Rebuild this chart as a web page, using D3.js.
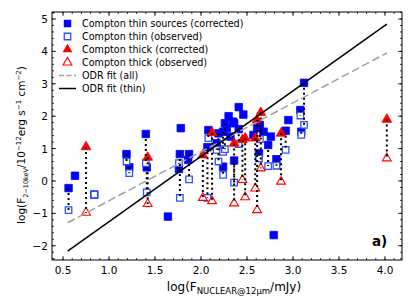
<!DOCTYPE HTML>
<head>
    <script src="https://cdn.jsdelivr.net/npm/d3@7/dist/d3.min.js"></script>
</head>

<body style="margin:0">
    <div id="svgDiv">
        <svg width="415" height="308"></svg>
    </div>
</body>

<style>
    text { font-family: "DejaVu Sans", sans-serif; fill: #000; }
</style>

<script>
    var w = 415;
    var h = 308;
    var margin = {left: 52, right: 13, top: 12, bottom: 48};

    // Compton thin sources: x, corrected, observed (null = not drawn)
    var thinX    = [0.56, 0.63, 0.84, 1.19, 1.22, 1.40, 1.41, 1.64, 1.78, 1.77, 1.76, 1.87, 1.86, 2.08, 2.07,
                    2.17, 2.19, 2.24, 2.24, 2.26, 2.28, 2.30, 2.32, 2.35, 2.36, 2.41, 2.41, 2.46, 2.36, 2.57,
                    2.61, 2.64, 2.68, 2.63, 2.73, 2.76, 2.82, 2.79, 2.92, 2.95, 3.08, 3.09, 3.12];
    var thinCorr = [-0.22, 0.16, -0.42, 0.83, 0.42, 1.45, 0.42, -1.10, 1.63, 0.83, 0.37, 0.83, 0.65, 1.57, 1.04,
                    1.16, 1.47, 1.52, 0.44, 1.78, 1.63, 2.00, 1.37, 1.83, 1.78, 1.60, 2.28, 2.05, 0.63, 1.42,
                    1.63, 1.73, 1.52, 0.85, 1.11, 1.37, 0.67, -1.67, 1.55, 1.88, 2.19, 1.52, 3.03];
    var thinObs  = [-0.90, null, -0.42, 0.60, 0.24, 0.55, -0.35, null, null, -0.52, 0.55, 0.05, null, 1.32, -0.52,
                    0.96, 0.60, 0.90, 0.19, 0.98, null, null, null, null, null, 1.14, null, null, -0.05, null,
                    null, 1.29, null, 0.70, 0.46, null, 0.47, null, 0.96, null, 2.02, 1.42, 1.73];

    // Compton thick sources
    var thickX    = [0.75, 1.42, 2.02, 2.12, 2.36, 2.45, 2.48, 2.59, 2.61, 2.65, 2.87, 4.02];
    var thickCorr = [1.05, 0.73, 0.80, 1.49, 1.16, 1.27, 1.32, 1.32, 1.88, 2.11, 1.47, 1.90];
    var thickObs  = [-0.98, -0.71, -0.52, -0.62, -0.69, 0.03, -0.50, -0.23, -0.90, 0.39, -0.02, 0.70];

    // ODR fits: [slope, intercept]
    var fitAll  = [1.51, -2.12];
    var fitThin = [2.02, -3.28];
    var fitRange = [0.55, 4.02];

    var xTicks = [0.5, 1.0, 1.5, 2.0, 2.5, 3.0, 3.5, 4.0];
    var yTicks = [-2, -1, 0, 1, 2, 3, 4, 5];

    var vis = d3.select("svg");

    var x = d3.scaleLinear().domain([0.38, 4.185]).range([margin.left, w - margin.right]);
    var y = d3.scaleLinear().domain([-2.44, 5.216]).range([h - margin.bottom, margin.top]);

    var thin = thinX.map(function(d, i) { return {x: d, c: thinCorr[i], o: thinObs[i]}; });
    var thick = thickX.map(function(d, i) { return {x: d, c: thickCorr[i], o: thickObs[i]}; });

    var sq = d3.symbol().type(d3.symbolSquare).size(56);
    var tri = d3.symbol().type(d3.symbolTriangle).size(42);

    //fit lines
    function fitLine(f, stroke, dash) {
        vis.append("line")
            .attr("x1", x(fitRange[0])).attr("y1", y(f[0] * fitRange[0] + f[1]))
            .attr("x2", x(fitRange[1])).attr("y2", y(f[0] * fitRange[1] + f[1]))
            .attr("stroke", stroke).attr("stroke-width", 1.5)
            .attr("stroke-dasharray", dash);
    }

    //markers
    var plot = vis.append("g");
    plot.selectAll(".thinC").data(thin.filter(d => d.c != null)).enter()
        .append("path").attr("d", sq)
        .attr("transform", d => "translate(" + x(d.x) + "," + y(d.c) + ")")
        .attr("fill", "#0000ff").attr("stroke", "#0000ff").attr("stroke-width", 0.8);
    plot.selectAll(".thinO").data(thin.filter(d => d.o != null)).enter()
        .append("path").attr("d", d3.symbol().type(d3.symbolSquare).size(42))
        .attr("transform", d => "translate(" + x(d.x) + "," + y(d.o) + ")")
        .attr("fill", "#fff").attr("stroke", "#3050ff").attr("stroke-width", 1.3);
    plot.selectAll(".thickC").data(thick).enter()
        .append("path").attr("d", tri)
        .attr("transform", d => "translate(" + x(d.x) + "," + y(d.c) + ")")
        .attr("fill", "#ff0000").attr("stroke", "#ff0000").attr("stroke-width", 0.8);
    plot.selectAll(".thickO").data(thick).enter()
        .append("path").attr("d", d3.symbol().type(d3.symbolTriangle).size(34))
        .attr("transform", d => "translate(" + x(d.x) + "," + y(d.o) + ")")
        .attr("fill", "#fff").attr("stroke", "#ff0000").attr("stroke-width", 1.1);

    //dotted connectors corrected -> observed
    var pairs = thin.filter(d => d.c != null && d.o != null).concat(thick);
    plot.selectAll(".conn").data(pairs).enter()
        .append("line")
        .attr("x1", d => x(d.x)).attr("x2", d => x(d.x))
        .attr("y1", d => y(d.c)).attr("y2", d => y(d.o))
        .attr("stroke", "#000").attr("stroke-width", 2)
        .attr("stroke-dasharray", "2,3");

    fitLine(fitAll, "#a0a0a0", "8,3.5");
    fitLine(fitThin, "#000", null);

    //axes, ticks inside on all four sides
    var x0 = margin.left, x1 = w - margin.right, y0 = h - margin.bottom, y1 = margin.top;
    var xMinor = d3.range(0.4, 4.19, 0.1);
    var yMinor = d3.range(-2.4, 5.21, 0.2);
    var ax = vis.append("g").attr("stroke", "#000").attr("stroke-width", 0.8);
    xMinor.forEach(function(t) {
        ax.append("line").attr("x1", x(t)).attr("x2", x(t)).attr("y1", y0).attr("y2", y0 - 2);
        ax.append("line").attr("x1", x(t)).attr("x2", x(t)).attr("y1", y1).attr("y2", y1 + 2);
    });
    yMinor.forEach(function(t) {
        ax.append("line").attr("y1", y(t)).attr("y2", y(t)).attr("x1", x0).attr("x2", x0 + 2);
        ax.append("line").attr("y1", y(t)).attr("y2", y(t)).attr("x1", x1).attr("x2", x1 - 2);
    });
    xTicks.forEach(function(t) {
        ax.append("line").attr("x1", x(t)).attr("x2", x(t)).attr("y1", y0).attr("y2", y0 - 4);
        ax.append("line").attr("x1", x(t)).attr("x2", x(t)).attr("y1", y1).attr("y2", y1 + 4);
        vis.append("text").attr("x", x(t)).attr("y", y0 + 14).attr("text-anchor", "middle")
            .attr("font-size", 10.5).text(t.toFixed(1));
    });
    yTicks.forEach(function(t) {
        ax.append("line").attr("y1", y(t)).attr("y2", y(t)).attr("x1", x0).attr("x2", x0 + 4);
        ax.append("line").attr("y1", y(t)).attr("y2", y(t)).attr("x1", x1).attr("x2", x1 - 4);
        vis.append("text").attr("x", x0 - 4).attr("y", y(t) + 4).attr("text-anchor", "end")
            .attr("font-size", 10.5).text(String(t).replace("-", "\u2212"));
    });
    vis.append("rect").attr("x", x0).attr("y", y1).attr("width", x1 - x0).attr("height", y0 - y1)
        .attr("fill", "none").attr("stroke", "#000").attr("stroke-width", 1);

    //axis labels
    var xl = vis.append("text").attr("x", 234).attr("y", 291).attr("text-anchor", "middle").attr("font-size", 12);
    xl.append("tspan").text("log(F");
    xl.append("tspan").attr("font-size", 8.5).attr("dy", 2.5).text("NUCLEAR@12\u03bcm");
    xl.append("tspan").attr("dy", -2.5).text("/mJy)");

    var yl = vis.append("text").attr("transform", "translate(25,145) rotate(-90)")
        .attr("text-anchor", "middle").attr("font-size", 10.5);
    yl.append("tspan").text("log(F");
    yl.append("tspan").attr("font-size", 6.5).attr("dy", 2.5).text("2\u221210keV");
    yl.append("tspan").attr("dy", -2.5).text("/10");
    yl.append("tspan").attr("font-size", 7).attr("dy", -4.5).text("\u221212");
    yl.append("tspan").attr("dy", 4.5).text("erg s");
    yl.append("tspan").attr("font-size", 7).attr("dy", -4.5).text("\u22121");
    yl.append("tspan").attr("dy", 4.5).text(" cm");
    yl.append("tspan").attr("font-size", 7).attr("dy", -4.5).text("\u22122");
    yl.append("tspan").attr("dy", 4.5).text(")");

    vis.append("text").attr("x", 372).attr("y", 246).attr("font-size", 13.5)
        .attr("font-weight", "bold").text("a)");

    //legend
    var legend = [
        {label: "Compton thin sources (corrected)", kind: "sqF"},
        {label: "Compton thin (observed)", kind: "sqO"},
        {label: "Compton thick (corrected)", kind: "triF"},
        {label: "Compton thick (observed)", kind: "triO"},
        {label: "ODR fit (all)", kind: "dash"},
        {label: "ODR fit (thin)", kind: "solid"}
    ];
    var lg = vis.append("g");
    legend.forEach(function(d, i) {
        var ly = 23.5 + i * 13;
        var mx = 67.5;
        if (d.kind == "sqF") lg.append("path").attr("d", sq).attr("transform", "translate(" + mx + "," + ly + ")").attr("fill", "#0000ff");
        if (d.kind == "sqO") lg.append("path").attr("d", d3.symbol().type(d3.symbolSquare).size(42)).attr("transform", "translate(" + mx + "," + ly + ")").attr("fill", "#fff").attr("stroke", "#3050ff").attr("stroke-width", 1.3);
        if (d.kind == "triF") lg.append("path").attr("d", tri).attr("transform", "translate(" + mx + "," + ly + ")").attr("fill", "#ff0000");
        if (d.kind == "triO") lg.append("path").attr("d", d3.symbol().type(d3.symbolTriangle).size(34)).attr("transform", "translate(" + mx + "," + ly + ")").attr("fill", "#fff").attr("stroke", "#ff0000").attr("stroke-width", 1.1);
        if (d.kind == "dash") lg.append("line").attr("x1", 59).attr("x2", 76).attr("y1", ly).attr("y2", ly).attr("stroke", "#a0a0a0").attr("stroke-width", 1.5).attr("stroke-dasharray", "5,2.5");
        if (d.kind == "solid") lg.append("line").attr("x1", 59).attr("x2", 76).attr("y1", ly).attr("y2", ly).attr("stroke", "#000").attr("stroke-width", 1.5);
        lg.append("text").attr("x", 82).attr("y", ly + 3.5).attr("font-size", 9.6).text(d.label);
    });
</script>
